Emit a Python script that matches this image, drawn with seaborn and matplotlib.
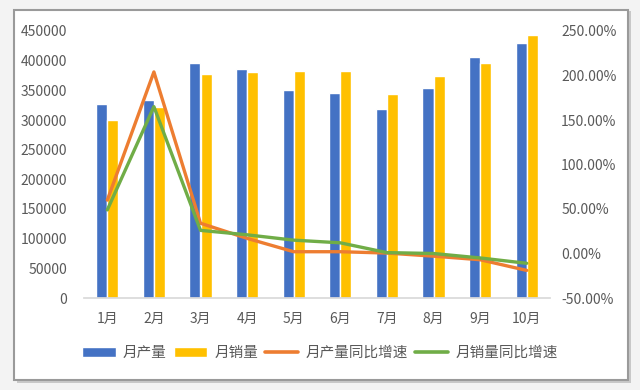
import numpy as np
import pandas as pd
import matplotlib
matplotlib.use("Agg")
import matplotlib.pyplot as plt
from matplotlib.patches import Rectangle, Patch
from matplotlib.lines import Line2D
from matplotlib.ticker import FuncFormatter
import seaborn as sns

# ---- data ----
months = ["1月", "2月", "3月", "4月", "5月", "6月", "7月", "8月", "9月", "10月"]
production = [327000, 334000, 396000, 386000, 350000, 345000, 318000, 354000, 406000, 430000]
sales = [300000, 322000, 378000, 381000, 382000, 382000, 344000, 374000, 396000, 443000]
prod_yoy = [60, 204, 34, 17, 2, 2, 0.5, -3, -7, -19]      # %
sales_yoy = [49, 165, 26, 21, 15, 12, 1, 0, -5, -11]      # %

BLUE, YELLOW, ORANGE, GREEN = "#4472C4", "#FFC000", "#ED7D31", "#70AD47"
GREY = "#595959"

sns.set_theme(style="white")
plt.rcParams["font.family"] = ["Noto Sans CJK SC", "DejaVu Sans"]

fig = plt.figure(figsize=(6.4, 3.9), dpi=100, facecolor="#f3f3f3")

# chart frame with a soft shadow (kept behind the axes)
fig.patches.append(Rectangle((17 / 640, 1 - 383 / 390), 614 / 640, 372 / 390,
                             transform=fig.transFigure, facecolor="#c8c8c8",
                             edgecolor="none", zorder=-3))
fig.patches.append(Rectangle((14 / 640, 1 - 380 / 390), 614 / 640, 370 / 390,
                             transform=fig.transFigure, facecolor="white",
                             edgecolor="#9a9a9a", linewidth=1.5, zorder=-2))

ax = fig.add_axes([84 / 640, 1 - 298 / 390, 466 / 640, 267 / 390])
ax.patch.set_alpha(0)

bars = pd.DataFrame({
    "month": months * 2,
    "value": production + sales,
    "series": ["月产量"] * len(months) + ["月销量"] * len(months),
})
sns.barplot(data=bars, x="month", y="value", hue="series",
            palette=[BLUE, YELLOW], width=0.48, ax=ax, legend=False,
            saturation=1)

ax.set_ylim(0, 450000)
ax.set_yticks(np.arange(0, 450001, 50000))
ax.yaxis.set_major_formatter(FuncFormatter(lambda v, p: f"{int(v)}"))
ax.set_xlim(-0.5, len(months) - 0.5)
ax.set_xlabel("")
ax.set_ylabel("")
for s in ["top", "right", "left"]:
    ax.spines[s].set_visible(False)
ax.spines["bottom"].set_color("#d9d9d9")
ax.tick_params(axis="both", length=0, colors=GREY, labelsize=10)
ax.tick_params(axis="x", pad=10)
ax.tick_params(axis="y", pad=12)

ax2 = ax.twinx()
ax2.patch.set_alpha(0)
x = np.arange(len(months))
sns.lineplot(x=x, y=prod_yoy, color=ORANGE, linewidth=2.4, ax=ax2)
sns.lineplot(x=x, y=sales_yoy, color=GREEN, linewidth=2.4, ax=ax2)
ax2.set_ylim(-50, 250)
ax2.set_yticks(np.arange(-50, 251, 50))
ax2.yaxis.set_major_formatter(FuncFormatter(lambda v, p: f"{v:.2f}%"))
for s in ["top", "right", "left", "bottom"]:
    ax2.spines[s].set_visible(False)
ax2.tick_params(axis="y", length=0, colors=GREY, labelsize=10, pad=8)
ax2.set_ylabel("")

handles = [
    Patch(facecolor=BLUE, label="月产量"),
    Patch(facecolor=YELLOW, label="月销量"),
    Line2D([0], [0], color=ORANGE, linewidth=2.6, label="月产量同比增速"),
    Line2D([0], [0], color=GREEN, linewidth=2.6, label="月销量同比增速"),
]
fig.legend(handles=handles, loc="center", bbox_to_anchor=(0.5, 1 - 353 / 390),
           ncol=4, frameon=False, fontsize=10.5, labelcolor=GREY,
           handlelength=2.3, handleheight=0.7, columnspacing=0.45,
           handletextpad=0.5)

fig.savefig("out.png", dpi=100, facecolor=fig.get_facecolor())
